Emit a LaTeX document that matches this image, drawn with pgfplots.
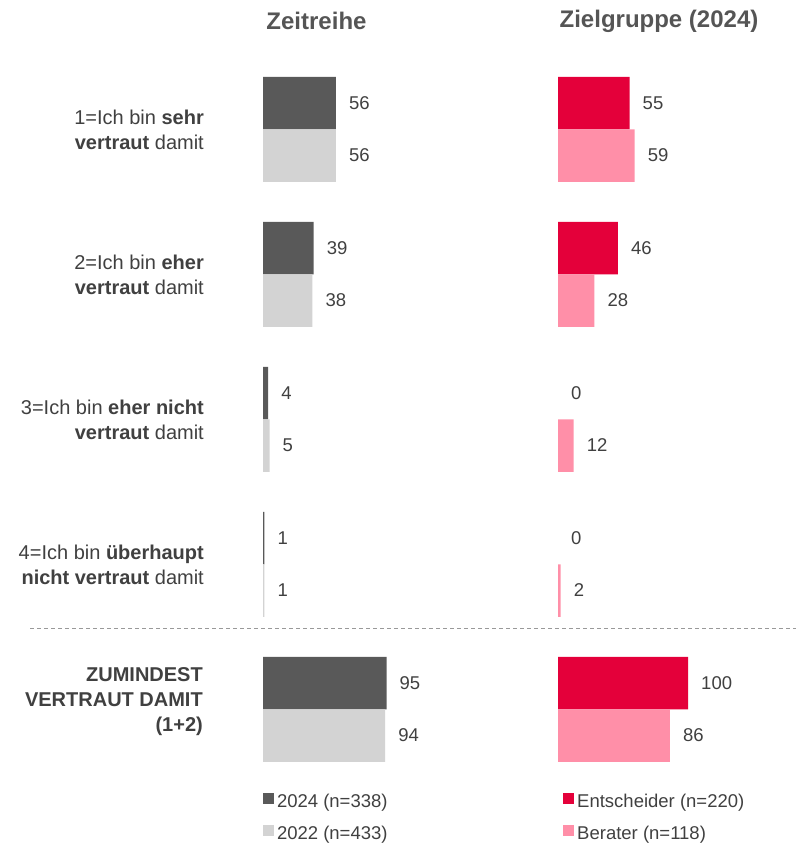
\documentclass[border=0pt]{standalone}
\usepackage{pgfplots}
\pgfplotsset{compat=1.18}
\usepackage{fontspec}
\setmainfont{Liberation Sans}
\definecolor{dgray}{HTML}{595959}
\definecolor{lgray}{HTML}{D3D3D3}
\definecolor{cred}{HTML}{E4003A}
\definecolor{cpink}{HTML}{FF8FA8}
\definecolor{txt}{HTML}{404040}
\definecolor{ttl}{HTML}{555555}
\begin{document}
\begin{tikzpicture}[x=1bp,y=1bp]
\path[use as bounding box] (0,0) rectangle (796,-843);
\pgfplotsset{
  panel/.style={
    width=130bp, height=843bp, scale only axis,
    xmin=0, xmax=100, ymin=0, ymax=843, y dir=reverse,
    hide axis, clip=false, anchor=north west,
    point meta=x,
    /pgf/number format/assume math mode=true,
    nodes near coords style={font=\fontsize{18.5bp}{20bp}\selectfont, text=txt, anchor=west, inner sep=0pt, xshift=13bp},
    legend cell align=left,
    legend image code/.code={\fill[##1,draw=none] (0bp,-0.5bp) rectangle (10.5bp,10bp);},
    legend style={draw=none, fill=none, inner sep=0pt, outer sep=0pt,
      font=\fontsize{18.5bp}{20bp}\selectfont, text=txt,
      nodes={inner sep=0pt, text height=13bp, text depth=4bp},
      row sep=13.5bp,
      /tikz/every odd column/.append style={column sep=3.5bp},
      at={(axis cs:0,793)}, anchor=north west},
  },
  bars/.style={xbar, bar width=52.5bp, bar shift=0pt, draw=none, fill=#1, nodes near coords},
}
% left panel
\begin{axis}[panel, at={(263bp,0bp)}]
\addplot[bars=dgray] coordinates {(56,103) (39,248) (4,393) (1,538) (95,683)};
\addlegendentry{2024 (n=338)}
\addplot[bars=lgray] coordinates {(56,155.5) (38,300.5) (5,445.5) (1,590.5) (94,735.5)};
\addlegendentry{2022 (n=433)}
\end{axis}
% right panel
\begin{axis}[panel, at={(558bp,0bp)}, legend style={at={(axis cs:4,793)}}]
\addplot[bars=cred] coordinates {(55,103) (46,248) (100,683)};
\addlegendentry{Entscheider (n=220)}
\addplot[bars=cpink] coordinates {(59,155.5) (28,300.5) (12,445.5) (2,590.5) (86,735.5)};
\addlegendentry{Berater (n=118)}
% zero values of Entscheider: labels only
\addplot[draw=none, mark=none, nodes near coords, forget plot] coordinates {(0,393) (0,538)};
\end{axis}
% titles
\node[font=\fontsize{24bp}{28bp}\selectfont\bfseries, text=ttl] at (316.5,-21) {Zeitreihe};
\node[font=\fontsize{24bp}{28bp}\selectfont\bfseries, text=ttl] at (659,-21) {Zielgruppe (2024)};
% category labels
\tikzset{cat/.style={anchor=east, align=right, inner sep=0pt, text=txt, font=\fontsize{20bp}{25bp}\selectfont}}
\node[cat] at (204,-129.5) {1=Ich bin \textbf{sehr}\\\textbf{vertraut} damit};
\node[cat] at (204,-274.5) {2=Ich bin \textbf{eher}\\\textbf{vertraut} damit};
\node[cat] at (204,-419.5) {3=Ich bin \textbf{eher nicht}\\\textbf{vertraut} damit};
\node[cat] at (204,-564.5) {4=Ich bin \textbf{überhaupt}\\\textbf{nicht vertraut} damit};
\node[cat] at (203,-702) {\textbf{ZUMINDEST}\\\textbf{VERTRAUT DAMIT}\\\textbf{(1+2)}};
% separator
\draw[color=gray!80, line width=1bp, dash pattern=on 4bp off 3bp] (30,-628) -- (796,-628);
\end{tikzpicture}
\end{document}
